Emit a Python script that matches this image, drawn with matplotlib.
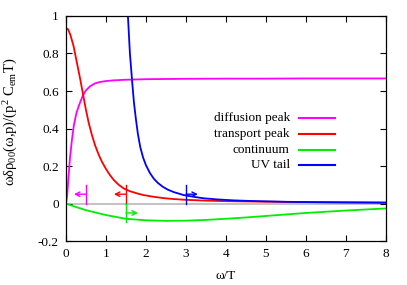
import matplotlib
matplotlib.use("Agg")
import matplotlib.pyplot as plt
from matplotlib.lines import Line2D

plt.rcParams['font.family'] = ['Liberation Serif', 'DejaVu Serif']
plt.rcParams['mathtext.fontset'] = 'custom'
plt.rcParams['mathtext.rm'] = 'Liberation Serif'
plt.rcParams['mathtext.it'] = 'Liberation Serif:italic'

# diffusion peak
w_diff = [0, 0.03, 0.06, 0.1, 0.15, 0.2, 0.26, 0.32, 0.42, 0.5, 0.6, 0.73, 0.85, 1.0, 1.2, 1.5,
          2, 3, 4, 5, 6, 7, 8]
v_diff = [0, 0.04, 0.13, 0.24, 0.34, 0.42, 0.48, 0.52, 0.575, 0.603, 0.625, 0.641, 0.648, 0.653,
          0.657, 0.660, 0.663, 0.665, 0.666, 0.666, 0.667, 0.667, 0.667]

# transport peak
w_tr = [0, 0.05, 0.11, 0.19, 0.275, 0.36, 0.43, 0.5, 0.57, 0.65, 0.73, 0.82, 0.9, 1.0, 1.1, 1.2,
        1.32, 1.45, 1.6, 1.8, 1.95, 2.2, 2.45, 2.7, 3.0, 3.45, 4, 5, 6, 7, 8]
v_tr = [0.935, 0.93, 0.90, 0.84, 0.75, 0.66, 0.58, 0.50, 0.43, 0.365, 0.31, 0.26, 0.223, 0.185,
        0.152, 0.125, 0.100, 0.080, 0.066, 0.053, 0.045, 0.036, 0.029, 0.024, 0.020, 0.016, 0.013,
        0.010, 0.008, 0.007, 0.006]

# continuum
w_cont = [0, 0.25, 0.5, 1, 1.5, 2, 2.5, 3, 3.5, 4, 4.5, 5, 6, 7, 8]
v_cont = [0, -0.018, -0.035, -0.061, -0.081, -0.089, -0.092, -0.091, -0.087, -0.081, -0.074,
          -0.066, -0.05, -0.037, -0.026]

# UV tail
w_uv = [1.50, 1.55, 1.60, 1.66, 1.70, 1.75, 1.80, 1.86, 1.93, 2.0, 2.1, 2.2, 2.3, 2.42, 2.55, 2.7,
        2.95, 3.2, 3.45, 3.8, 4.2, 4.6, 5, 5.5, 6, 7, 8]
v_uv = [1.25, 1.0, 0.80, 0.64, 0.54, 0.45, 0.37, 0.30, 0.245, 0.205, 0.163, 0.132, 0.110, 0.090,
        0.074, 0.061, 0.045, 0.036, 0.028, 0.022, 0.017, 0.014, 0.012, 0.0095, 0.008, 0.006, 0.0045]

labels = ['diffusion peak', 'transport peak', 'continuum', 'UV tail']
colors = ['#ff00ff', '#ff0000', '#00ee00', '#0000ff']

# cut markers: position, y range of bar, arrow direction
cut_w = [0.5, 1.5, 1.5, 3.0]
cut_lo = [0.0, 0.0, -0.1, 0.0]
cut_hi = [0.1, 0.1, 0.0, 0.1]
cut_dir = [-0.3, -0.3, 0.3, 0.3]

x_ticks = [0, 1, 2, 3, 4, 5, 6, 7, 8]
y_ticks = [-0.2, 0, 0.2, 0.4, 0.6, 0.8, 1]
y_ticklabels = ['-0.2', '0', '0.2', '0.4', '0.6', '0.8', '1']

fig = plt.figure(figsize=(4.07, 2.85), dpi=100)
ax = fig.add_axes([0.162, 0.154, 0.786, 0.79])

ax.plot([0, 8], [0, 0], color='#b8b8b8', lw=1.2, zorder=1)

series = [(w_diff, v_diff), (w_tr, v_tr), (w_cont, v_cont), (w_uv, v_uv)]
for (w, v), c in zip(series, colors):
    ax.plot(w, v, color=c, lw=1.3, zorder=2)

for i, c in enumerate(colors):
    ax.plot([cut_w[i], cut_w[i]], [cut_lo[i], cut_hi[i]], color=c, lw=1.0)
    ym = (cut_lo[i] + cut_hi[i]) / 2
    ax.annotate('', xy=(cut_w[i] + cut_dir[i], ym), xytext=(cut_w[i], ym),
                arrowprops=dict(arrowstyle='->', color=c, lw=1.0,
                                shrinkA=0, shrinkB=0, mutation_scale=8))

# legend drawn gnuplot style: text right aligned, then line sample
leg_y = [0.545, 0.4756, 0.4044, 0.3364]
for lab, c, yy in zip(labels, colors, leg_y):
    ax.text(0.70, yy, lab, transform=ax.transAxes, ha='right', va='center', fontsize=9.5)
    ax.add_line(Line2D([0.727, 0.84], [yy, yy], transform=ax.transAxes, color=c, lw=1.5))

ax.set_xlim(0, 8)
ax.set_ylim(-0.2, 1)
ax.set_xticks(x_ticks)
ax.set_yticks(y_ticks)
ax.set_yticklabels(y_ticklabels)
ax.tick_params(direction='in', top=True, right=True, length=4, width=0.8,
               labelsize=9.5, pad=5)
for s in ax.spines.values():
    s.set_linewidth(0.9)

ax.set_xlabel('ω/T', fontsize=9.5)
ax.xaxis.set_label_coords(0.5, -0.13)
ax.set_ylabel(r'ωδρ$_{00}$(ω,p)/(p$^{2}$ C$_{\mathrm{em}}$T)', fontsize=10.5)
ax.yaxis.set_label_coords(-0.145, 0.53)

fig.savefig('out.png', dpi=100)
